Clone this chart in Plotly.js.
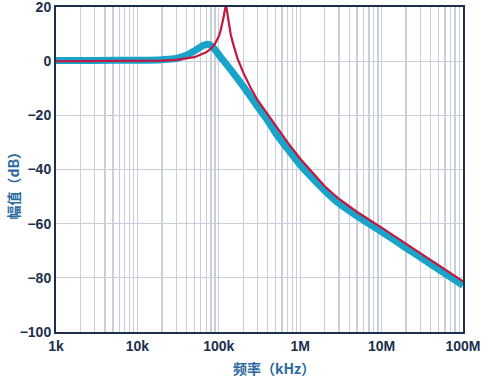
<!DOCTYPE html>
<html>
<head>
<meta charset="utf-8">
<script src="https://cdn.plot.ly/plotly-3.0.1.min.js"></script>
<style>html,body{margin:0;padding:0;background:#fff;}#chart{width:492px;height:378px;}</style>
</head>
<body>
<div id="chart"></div>
<script>
// Frequency (Hz) and magnitude (dB)
const freqBlue = [1e3, 3e3, 1e4, 2e4, 3e4, 4e4, 5e4, 6e4, 6.5e4, 7e4, 7.5e4, 8e4, 9e4, 1e5, 1.2e5, 1.5e5, 2e5, 2.5e5, 3e5, 4e5, 5e5, 7e5, 1e6, 1.5e6, 2e6, 3e6, 5e6, 1e7, 2e7, 3e7, 5e7, 1e8];
const magBlue  = [0.3, 0.3, 0.4, 0.6, 1.0, 2.2, 3.8, 5.3, 5.9, 6.2, 6.2, 5.8, 4.3, 2.4, -0.6, -4.3, -9.3, -13.4, -16.8, -22.0, -26.6, -32.4, -38.3, -44.0, -47.8, -52.6, -57.2, -63.0, -69.0, -72.5, -76.9, -82.8];

const freqRed = [1e3, 1e4, 2e4, 3e4, 5e4, 7e4, 8e4, 9e4, 1e5, 1.05e5, 1.1e5, 1.15e5, 1.18e5, 1.2e5, 1.22e5, 1.24e5, 1.27e5, 1.3e5, 1.35e5, 1.4e5, 1.5e5, 1.7e5, 2e5, 2.5e5, 3e5, 4e5, 5e5, 7e5, 1e6, 1.5e6, 2e6, 3e6, 5e6, 1e7, 2e7, 3e7, 5e7, 1e8];
const magRed  = [0, 0.05, 0.2, 0.5, 1.5, 3.3, 4.6, 6.5, 9.2, 11.2, 13.6, 16.5, 18.6, 19.8, 20.6, 19.9, 17.6, 15.3, 12.4, 10.0, 6.4, 1.0, -4.2, -10.2, -14.4, -19.8, -24.0, -30.0, -36.0, -42.0, -46.2, -50.9, -55.7, -61.5, -67.4, -70.9, -75.3, -81.3];

const xTickVals = [1e3, 1e4, 1e5, 1e6, 1e7, 1e8];
const xTickText = ['1k', '10k', '100k', '1M', '10M', '100M'];
const yTickVals = [-100, -80, -60, -40, -20, 0, 20];
const yTickText = ['\u2212100', '\u221280', '\u221260', '\u221240', '\u221220', '0', '20'];

const minorVals = [];
for (let d = 3; d < 8; d++) {
  for (let m = 2; m <= 9; m++) minorVals.push(m * Math.pow(10, d));
}

const navy = '#1c2f4d';
const titleBlue = '#2c6aa0';
const gridCol = '#c8cfd9';

const traces = [
  {
    x: freqBlue, y: magBlue, type: 'scatter', mode: 'lines',
    line: {color: '#19a3c9', width: 7, shape: 'spline', smoothing: 0.8},
    hoverinfo: 'skip', showlegend: false
  },
  {
    x: freqRed, y: magRed, type: 'scatter', mode: 'lines',
    line: {color: '#c5163e', width: 2.2},
    hoverinfo: 'skip', showlegend: false
  }
];

const layout = {
  width: 492, height: 378,
  margin: {l: 56, r: 29, t: 7, b: 46, pad: 0},
  paper_bgcolor: '#ffffff', plot_bgcolor: '#ffffff',
  showlegend: false,
  xaxis: {
    type: 'log', range: [3, 8],
    tickmode: 'array', tickvals: xTickVals, ticktext: xTickText,
    ticks: '', showgrid: true, gridcolor: gridCol, gridwidth: 1.3,
    minor: {tickmode: 'array', tickvals: minorVals, showgrid: true, gridcolor: gridCol, gridwidth: 1.3, ticks: ''},
    showline: true, linecolor: navy, linewidth: 2, mirror: true,
    zeroline: false, ticklabeloverflow: 'allow',
    tickfont: {family: 'Liberation Sans, Arial, sans-serif', size: 14, color: navy, weight: 'bold'}
  },
  yaxis: {
    range: [-100.05, 20.05],
    tickmode: 'array', tickvals: yTickVals, ticktext: yTickText,
    ticks: '', showgrid: true, gridcolor: gridCol, gridwidth: 1.3,
    showline: true, linecolor: navy, linewidth: 2, mirror: true,
    zeroline: false, ticklabeloverflow: 'allow',
    tickfont: {family: 'Liberation Sans, Arial, sans-serif', size: 14, color: navy, weight: 'bold'}
  },
  annotations: [
    {
      text: '频率（kHz）', xref: 'paper', yref: 'paper', x: 0.535, y: 0, yshift: -36,
      xanchor: 'center', yanchor: 'middle', showarrow: false,
      font: {family: 'Noto Sans CJK SC, sans-serif', size: 14, color: titleBlue, weight: 'bold'}
    },
    {
      text: '幅值（dB）', xref: 'paper', yref: 'paper', x: 0, xshift: -44, y: 0.46,
      xanchor: 'center', yanchor: 'middle', textangle: -90, showarrow: false,
      font: {family: 'Noto Sans CJK SC, sans-serif', size: 14, color: titleBlue, weight: 'bold'}
    }
  ]
};

Plotly.newPlot('chart', traces, layout, {staticPlot: true, displayModeBar: false});
</script>
</body>
</html>
